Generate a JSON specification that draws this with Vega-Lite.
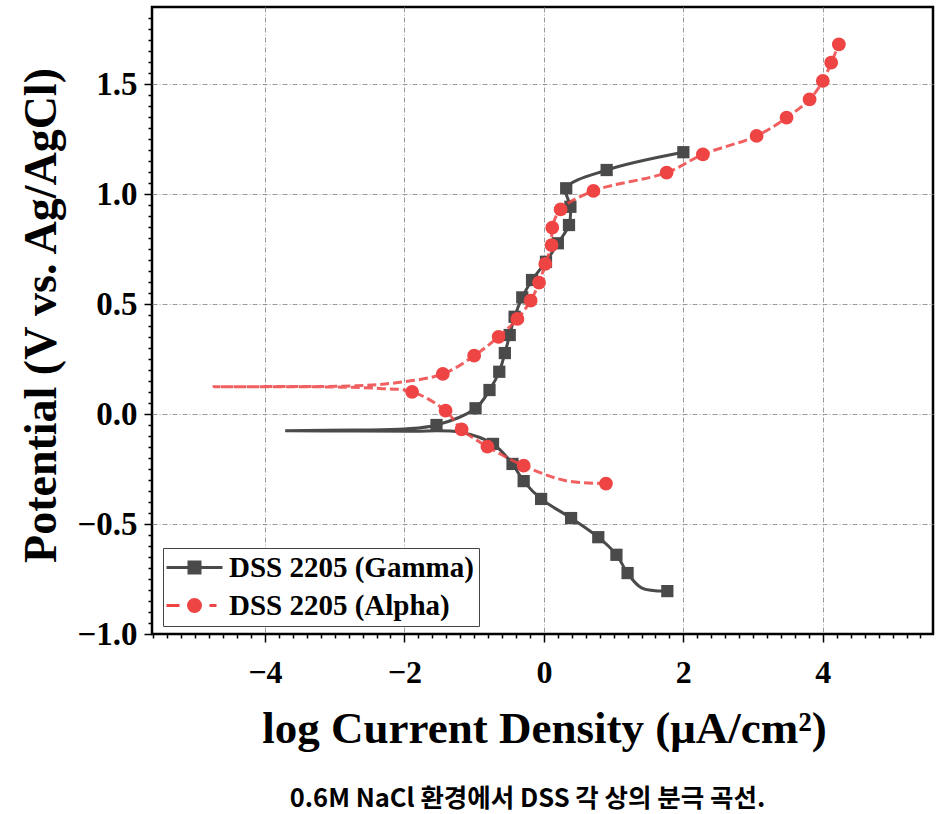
{
  "$schema": "https://vega.github.io/schema/vega-lite/v6.json",
  "width": 781,
  "height": 627,
  "autosize": "none",
  "padding": {"left": 152, "top": 7, "right": 8, "bottom": 180},
  "background": "white",
  "config": {
    "view": {"stroke": "#000", "strokeWidth": 2.5},
    "font": "Liberation Serif"
  },
  "title": {
    "text": "0.6M NaCl 환경에서 DSS 각 상의 분극 곡선.",
    "orient": "bottom",
    "anchor": "middle",
    "font": "Noto Sans CJK KR",
    "fontWeight": "bold",
    "fontSize": 25.5,
    "color": "#000",
    "offset": 36,
    "dx": -15
  },
  "data": {
    "values": [
      {"series": "DSS 2205 (Gamma)", "seq": 1, "x": 1.77, "y": -0.805, "m": 1},
      {"series": "DSS 2205 (Gamma)", "seq": 2, "x": 1.40, "y": -0.790, "m": 0},
      {"series": "DSS 2205 (Gamma)", "seq": 3, "x": 1.20, "y": -0.723, "m": 1},
      {"series": "DSS 2205 (Gamma)", "seq": 4, "x": 1.04, "y": -0.640, "m": 1},
      {"series": "DSS 2205 (Gamma)", "seq": 5, "x": 0.78, "y": -0.560, "m": 1},
      {"series": "DSS 2205 (Gamma)", "seq": 6, "x": 0.39, "y": -0.473, "m": 1},
      {"series": "DSS 2205 (Gamma)", "seq": 7, "x": -0.04, "y": -0.386, "m": 1},
      {"series": "DSS 2205 (Gamma)", "seq": 8, "x": -0.29, "y": -0.305, "m": 1},
      {"series": "DSS 2205 (Gamma)", "seq": 9, "x": -0.45, "y": -0.227, "m": 1},
      {"series": "DSS 2205 (Gamma)", "seq": 10, "x": -0.73, "y": -0.136, "m": 1},
      {"series": "DSS 2205 (Gamma)", "seq": 11, "x": -1.20, "y": -0.083, "m": 0},
      {"series": "DSS 2205 (Gamma)", "seq": 12, "x": -1.90, "y": -0.078, "m": 0},
      {"series": "DSS 2205 (Gamma)", "seq": 13, "x": -2.70, "y": -0.077, "m": 0},
      {"series": "DSS 2205 (Gamma)", "seq": 14, "x": -3.71, "y": -0.076, "m": 0},
      {"series": "DSS 2205 (Gamma)", "seq": 15, "x": -2.70, "y": -0.073, "m": 0},
      {"series": "DSS 2205 (Gamma)", "seq": 16, "x": -2.00, "y": -0.068, "m": 0},
      {"series": "DSS 2205 (Gamma)", "seq": 17, "x": -1.54, "y": -0.050, "m": 1},
      {"series": "DSS 2205 (Gamma)", "seq": 18, "x": -0.98, "y": 0.026, "m": 1},
      {"series": "DSS 2205 (Gamma)", "seq": 19, "x": -0.78, "y": 0.109, "m": 1},
      {"series": "DSS 2205 (Gamma)", "seq": 20, "x": -0.64, "y": 0.192, "m": 1},
      {"series": "DSS 2205 (Gamma)", "seq": 21, "x": -0.56, "y": 0.277, "m": 1},
      {"series": "DSS 2205 (Gamma)", "seq": 22, "x": -0.49, "y": 0.359, "m": 1},
      {"series": "DSS 2205 (Gamma)", "seq": 23, "x": -0.42, "y": 0.442, "m": 1},
      {"series": "DSS 2205 (Gamma)", "seq": 24, "x": -0.31, "y": 0.530, "m": 1},
      {"series": "DSS 2205 (Gamma)", "seq": 25, "x": -0.17, "y": 0.609, "m": 1},
      {"series": "DSS 2205 (Gamma)", "seq": 26, "x": 0.03, "y": 0.692, "m": 1},
      {"series": "DSS 2205 (Gamma)", "seq": 27, "x": 0.20, "y": 0.776, "m": 1},
      {"series": "DSS 2205 (Gamma)", "seq": 28, "x": 0.36, "y": 0.859, "m": 1},
      {"series": "DSS 2205 (Gamma)", "seq": 29, "x": 0.38, "y": 0.942, "m": 1},
      {"series": "DSS 2205 (Gamma)", "seq": 30, "x": 0.32, "y": 1.026, "m": 1},
      {"series": "DSS 2205 (Gamma)", "seq": 31, "x": 0.90, "y": 1.109, "m": 1},
      {"series": "DSS 2205 (Gamma)", "seq": 32, "x": 2.00, "y": 1.190, "m": 1},
      {"series": "DSS 2205 (Alpha)", "seq": 1, "x": 0.89, "y": -0.316, "m": 1},
      {"series": "DSS 2205 (Alpha)", "seq": 2, "x": 0.30, "y": -0.302, "m": 0},
      {"series": "DSS 2205 (Alpha)", "seq": 3, "x": -0.29, "y": -0.235, "m": 1},
      {"series": "DSS 2205 (Alpha)", "seq": 4, "x": -0.81, "y": -0.148, "m": 1},
      {"series": "DSS 2205 (Alpha)", "seq": 5, "x": -1.18, "y": -0.070, "m": 1},
      {"series": "DSS 2205 (Alpha)", "seq": 6, "x": -1.41, "y": 0.015, "m": 1},
      {"series": "DSS 2205 (Alpha)", "seq": 7, "x": -1.89, "y": 0.101, "m": 1},
      {"series": "DSS 2205 (Alpha)", "seq": 8, "x": -2.35, "y": 0.116, "m": 0},
      {"series": "DSS 2205 (Alpha)", "seq": 9, "x": -2.90, "y": 0.122, "m": 0},
      {"series": "DSS 2205 (Alpha)", "seq": 10, "x": -3.60, "y": 0.124, "m": 0},
      {"series": "DSS 2205 (Alpha)", "seq": 11, "x": -4.73, "y": 0.124, "m": 0},
      {"series": "DSS 2205 (Alpha)", "seq": 12, "x": -3.60, "y": 0.125, "m": 0},
      {"series": "DSS 2205 (Alpha)", "seq": 13, "x": -2.70, "y": 0.128, "m": 0},
      {"series": "DSS 2205 (Alpha)", "seq": 14, "x": -2.12, "y": 0.142, "m": 0},
      {"series": "DSS 2205 (Alpha)", "seq": 15, "x": -1.45, "y": 0.182, "m": 1},
      {"series": "DSS 2205 (Alpha)", "seq": 16, "x": -1.00, "y": 0.265, "m": 1},
      {"series": "DSS 2205 (Alpha)", "seq": 17, "x": -0.65, "y": 0.351, "m": 1},
      {"series": "DSS 2205 (Alpha)", "seq": 18, "x": -0.38, "y": 0.432, "m": 1},
      {"series": "DSS 2205 (Alpha)", "seq": 19, "x": -0.19, "y": 0.515, "m": 1},
      {"series": "DSS 2205 (Alpha)", "seq": 20, "x": -0.07, "y": 0.597, "m": 1},
      {"series": "DSS 2205 (Alpha)", "seq": 21, "x": 0.02, "y": 0.682, "m": 1},
      {"series": "DSS 2205 (Alpha)", "seq": 22, "x": 0.11, "y": 0.768, "m": 1},
      {"series": "DSS 2205 (Alpha)", "seq": 23, "x": 0.12, "y": 0.847, "m": 1},
      {"series": "DSS 2205 (Alpha)", "seq": 24, "x": 0.24, "y": 0.930, "m": 1},
      {"series": "DSS 2205 (Alpha)", "seq": 25, "x": 0.71, "y": 1.014, "m": 1},
      {"series": "DSS 2205 (Alpha)", "seq": 26, "x": 1.76, "y": 1.097, "m": 1},
      {"series": "DSS 2205 (Alpha)", "seq": 27, "x": 2.28, "y": 1.180, "m": 1},
      {"series": "DSS 2205 (Alpha)", "seq": 28, "x": 3.05, "y": 1.264, "m": 1},
      {"series": "DSS 2205 (Alpha)", "seq": 29, "x": 3.48, "y": 1.347, "m": 1},
      {"series": "DSS 2205 (Alpha)", "seq": 30, "x": 3.81, "y": 1.430, "m": 1},
      {"series": "DSS 2205 (Alpha)", "seq": 31, "x": 4.00, "y": 1.514, "m": 1},
      {"series": "DSS 2205 (Alpha)", "seq": 32, "x": 4.12, "y": 1.597, "m": 1},
      {"series": "DSS 2205 (Alpha)", "seq": 33, "x": 4.23, "y": 1.680, "m": 1}
    ]
  },
  "encoding": {
    "x": {
      "field": "x",
      "type": "quantitative",
      "scale": {"domain": [-5.62, 5.58], "nice": false, "zero": false},
      "axis": {
        "values": [-5.6,-5.4,-5.2,-5.0,-4.8,-4.6,-4.4,-4.2,-4.0,-3.8,-3.6,-3.4,-3.2,-3.0,-2.8,-2.6,-2.4,-2.2,-2.0,-1.8,-1.6,-1.4,-1.2,-1.0,-0.8,-0.6,-0.4,-0.2,0,0.2,0.4,0.6,0.8,1.0,1.2,1.4,1.6,1.8,2.0,2.2,2.4,2.6,2.8,3.0,3.2,3.4,3.6,3.8,4.0,4.2,4.4,4.6,4.8,5.0,5.2,5.4],
        "format": ".0f",
        "labelExpr": "abs(datum.value/2 - round(datum.value/2)) < 0.001 ? datum.label : ''",
        "labelOverlap": false,
        "labelFlush": false,
        "grid": true,
        "gridOpacity": {"condition": {"test": "abs(datum.value/2 - round(datum.value/2)) < 0.001", "value": 1}, "value": 0},
        "gridColor": "#999999",
        "gridDash": [5, 2, 1, 2],
        "gridWidth": 1,
        "tickSize": {"condition": {"test": "abs(datum.value/2 - round(datum.value/2)) < 0.001", "value": 8}, "value": 4},
        "tickWidth": 1.5,
        "tickColor": "#000",
        "domain": false,
        "labelFont": "Liberation Serif",
        "labelFontSize": 32,
        "labelFontWeight": "bold",
        "labelColor": "#000",
        "labelPadding": 15,
        "title": "log Current Density (μA/cm²)",
        "titleFont": "Liberation Serif",
        "titleFontSize": 45,
        "titleFontWeight": "bold",
        "titleColor": "#000",
        "titleX": 392,
        "titleY": 108,
        "titleAlign": "center",
        "titleBaseline": "alphabetic"
      }
    },
    "y": {
      "field": "y",
      "type": "quantitative",
      "scale": {"domain": [-1.0, 1.85], "nice": false, "zero": false},
      "axis": {
        "values": [-1.0,-0.95,-0.9,-0.85,-0.8,-0.75,-0.7,-0.65,-0.6,-0.55,-0.5,-0.45,-0.4,-0.35,-0.3,-0.25,-0.2,-0.15,-0.1,-0.05,0,0.05,0.1,0.15,0.2,0.25,0.3,0.35,0.4,0.45,0.5,0.55,0.6,0.65,0.7,0.75,0.8,0.85,0.9,0.95,1.0,1.05,1.1,1.15,1.2,1.25,1.3,1.35,1.4,1.45,1.5,1.55,1.6,1.65,1.7,1.75,1.8],
        "format": ".1f",
        "labelExpr": "abs(datum.value*2 - round(datum.value*2)) < 0.001 ? datum.label : ''",
        "labelOverlap": false,
        "labelFlush": false,
        "grid": true,
        "gridOpacity": {"condition": {"test": "abs(datum.value*2 - round(datum.value*2)) < 0.001 && datum.value > -0.9", "value": 1}, "value": 0},
        "gridColor": "#999999",
        "gridDash": [5, 2, 1, 2],
        "gridWidth": 1,
        "tickSize": {"condition": {"test": "abs(datum.value*2 - round(datum.value*2)) < 0.001", "value": 8}, "value": 4},
        "tickWidth": 1.5,
        "tickColor": "#000",
        "domain": false,
        "labelFont": "Liberation Serif",
        "labelFontSize": 33,
        "labelFontWeight": "bold",
        "labelColor": "#000",
        "labelPadding": 7,
        "title": "Potential (V vs. Ag/AgCl)",
        "titleFont": "Liberation Serif",
        "titleFontSize": 46,
        "titleFontWeight": "bold",
        "titleColor": "#000",
        "titleX": -111,
        "titleY": 308,
        "titleAngle": 270,
        "titleAlign": "center",
        "titleBaseline": "middle"
      }
    },
    "order": {"field": "seq", "type": "quantitative"}
  },
  "layer": [
    {
      "transform": [{"filter": "datum.series == 'DSS 2205 (Gamma)'"}],
      "mark": {"type": "line", "interpolate": "catmull-rom", "strokeWidth": 3},
      "encoding": {
        "stroke": {
          "field": "series",
          "type": "nominal",
          "scale": {"domain": ["DSS 2205 (Gamma)", "DSS 2205 (Alpha)"], "range": ["#4a4a4a", "#ee4444"]},
          "legend": {
            "orient": "none",
            "legendX": 11,
            "legendY": 541,
            "title": null,
            "direction": "vertical",
            "labelFont": "Liberation Serif",
            "labelFontSize": 29,
            "labelFontWeight": "bold",
            "labelColor": "#000",
            "labelLimit": 400,
            "symbolSize": 400,
            "symbolStrokeWidth": 3,
            "labelOffset": 32,
            "rowPadding": 8,
            "padding": 5,
            "strokeColor": "#444444",
            "fillColor": "#ffffff",
            "cornerRadius": 0,
            "encode": {
              "symbols": {
                "update": {
                  "shape": {"signal": "datum.value == 'DSS 2205 (Gamma)' ? 'M-1.6,0H4.0M0.65,-0.55H1.75V0.55H0.65Z' : 'M-1.6,0H-0.3M2.7,0H3.4M1.8,0A0.6,0.6,0,1,1,0.6,0A0.6,0.6,0,1,1,1.8,0Z'"},
                  "fill": {"signal": "datum.value == 'DSS 2205 (Gamma)' ? '#4a4a4a' : '#ee4444'"},
                  "stroke": {"signal": "datum.value == 'DSS 2205 (Gamma)' ? '#4a4a4a' : '#ee4444'"},
                  "strokeWidth": {"value": 3},
                  "opacity": {"value": 1}
                }
              }
            }
          }
        }
      }
    },
    {
      "transform": [{"filter": "datum.series == 'DSS 2205 (Gamma)' && datum.m == 1"}],
      "mark": {"type": "point", "shape": "square", "filled": true, "size": 150, "opacity": 1, "color": "#4a4a4a"}
    },
    {
      "transform": [{"filter": "datum.series == 'DSS 2205 (Alpha)'"}],
      "mark": {"type": "line", "interpolate": "catmull-rom", "strokeWidth": 3, "strokeDash": [9, 4], "opacity": 0.85},
      "encoding": {
        "stroke": {"field": "series", "type": "nominal"}
      }
    },
    {
      "transform": [{"filter": "datum.series == 'DSS 2205 (Alpha)' && datum.m == 1"}],
      "mark": {"type": "point", "shape": "circle", "filled": true, "size": 190, "opacity": 1, "color": "#ee4444"}
    }
  ]
}
